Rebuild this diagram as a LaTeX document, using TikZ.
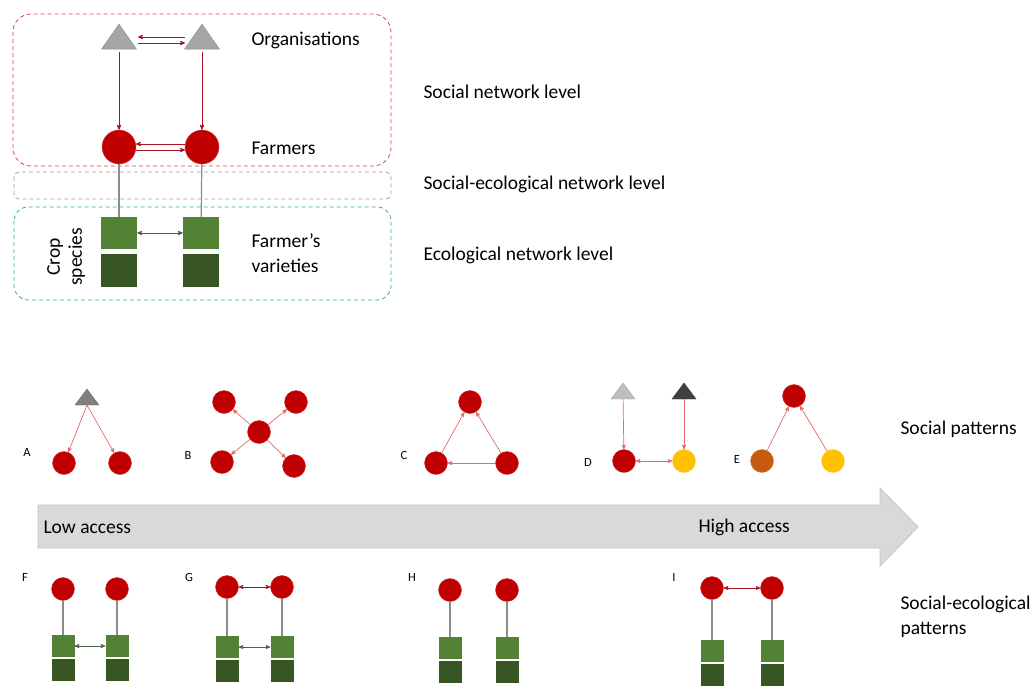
\documentclass[tikz,border=0pt]{standalone}
\usepackage{fontspec}
\setmainfont{Carlito}
\usetikzlibrary{positioning,shapes.geometric,arrows}
\definecolor{farmred}{RGB}{192,0,0}
\definecolor{linkred}{RGB}{165,20,35}
\definecolor{softred}{RGB}{228,105,105}
\definecolor{orggrey}{RGB}{166,166,166}
\definecolor{midgrey}{RGB}{128,128,128}
\definecolor{lightgrey}{RGB}{191,191,191}
\definecolor{darkgrey}{RGB}{64,64,64}
\definecolor{cropgreen}{RGB}{84,130,53}
\definecolor{vargreen}{RGB}{55,86,35}
\definecolor{linkgreen}{RGB}{75,100,70}
\definecolor{stemgrey}{RGB}{140,140,140}
\definecolor{boxred}{RGB}{210,70,80}
\definecolor{boxgrey}{RGB}{160,160,160}
\definecolor{boxgreen}{RGB}{60,175,135}
\definecolor{arrowfill}{RGB}{217,217,217}
\definecolor{arrowedge}{RGB}{195,195,195}
\definecolor{gold}{RGB}{255,192,0}
\definecolor{rust}{RGB}{197,90,17}

\begin{document}
\begin{tikzpicture}[%
    x=1pt, y=-1pt,
    >=stealth',
    font=\fontsize{19.5}{23}\selectfont,
    farmer/.style={circle, fill=farmred, draw=farmred!75!white, inner sep=0pt, minimum size=34pt},
    dot/.style={circle, fill=#1, draw=#1!80!white, inner sep=0pt, minimum size=23pt},
    dot/.default=farmred,
    org/.style={isosceles triangle, isosceles triangle stretches, shape border rotate=90,
      fill=#1, draw=#1!85!black, inner sep=0pt, minimum width=35pt, minimum height=25pt},
    smallorg/.style={org=#1, minimum width=24pt, minimum height=16pt},
    crop/.style={rectangle, fill=cropgreen, inner sep=0pt, minimum width=36pt, minimum height=32pt},
    variety/.style={crop, fill=vargreen, minimum height=33pt},
    smallcrop/.style={crop, minimum width=23pt, minimum height=22pt},
    smallvariety/.style={variety, minimum width=23pt, minimum height=22pt},
    toplink/.style={->, draw=linkred, line width=0.8pt},
    softlink/.style={->, draw=softred, line width=0.7pt},
    greenlink/.style={<->, draw=linkgreen, line width=0.8pt},
    stem/.style={draw=stemgrey, line width=1.2pt},
    level/.style={anchor=west},
    letter/.style={font=\fontsize{12.5}{14}\selectfont}
  ]
    \useasboundingbox (0,0) rectangle (1036,686);

    % levels
    \draw[boxred, dash pattern=on 4pt off 3pt, line width=0.8pt, rounded corners=18pt] (13,14) rectangle (391,166);
    \draw[boxgrey, dash pattern=on 4pt off 3pt, line width=0.8pt, rounded corners=5pt] (14,172) rectangle (391,199);
    \draw[boxgreen, dash pattern=on 4pt off 3pt, line width=0.8pt, rounded corners=14pt] (14,207) rectangle (391,300);

    \node[org=orggrey] (o1) at (119,40) {};
    \node[org=orggrey] (o2) at (202,40) {};
    \node[farmer] (f1) at (119,147) {};
    \node[farmer] (f2) at (202,147) {};
    \node[crop] (s1) at (119,233) {};
    \node[crop] (s2) at (201,233) {};
    \node[variety] (v1) at (119,270.5) {};
    \node[variety] (v2) at (201,270.5) {};

    \path (f1) edge[stem] (s1)
          (f2) edge[stem] (s2)
          ([xshift=-17pt,yshift=3pt]o2.center) edge[toplink] ([xshift=19pt,yshift=3pt]o1.center)
          ([xshift=19pt,yshift=-3pt]o1.center) edge[toplink] ([xshift=-17pt,yshift=-3pt]o2.center)
          (o1) edge[toplink, shorten <=3pt] (f1)
          (o2) edge[toplink, shorten <=3pt] (f2)
          (f2.170) edge[toplink] (f1.10)
          (f1.-10) edge[toplink] (f2.190)
          (s1) edge[greenlink] (s2);

    \node[rotate=90, align=center, font=\fontsize{19.5}{22}\selectfont] (crop) at (66,257) {Crop\\species};
    \node[level] (orgs) at (248,40) {Organisations};
    \node[level] (farm) at (248,148) {Farmers};
    \node[level, align=left, font=\fontsize{19.5}{25}\selectfont] (vars) at (248,253) {Farmer’s\\varieties};
    \node[level] (snl) at (420,92) {Social network level};
    \node[level] (senl) at (420,184) {Social-ecological network level};
    \node[level] (enl) at (420,255) {Ecological network level};

    % social patterns
    \node[letter] (la) at (27,452) {A};
    \node[smallorg=midgrey] (a0) at (87,399) {};
    \node[dot] (a1) at (64,463) {};
    \node[dot] (a2) at (120,463) {};

    \node[letter] (lb) at (188,455) {B};
    \node[dot] (b0) at (259,432) {};
    \node[dot] (b1) at (224,402) {};
    \node[dot] (b2) at (296,402) {};
    \node[dot] (b3) at (222,462) {};
    \node[dot] (b4) at (294,466) {};

    \node[letter] (lc) at (404,455) {C};
    \node[dot] (c1) at (470,402) {};
    \node[dot] (c2) at (436,463) {};
    \node[dot] (c3) at (507,463) {};

    \node[letter] (ld) at (588,462) {D};
    \node[smallorg=lightgrey] (d1) at (623,393) {};
    \node[smallorg=darkgrey] (d2) at (684,393) {};
    \node[dot] (d3) at (624,461) {};
    \node[dot=gold] (d4) at (684,461) {};

    \node[letter] (le) at (737,459) {E};
    \node[dot] (e1) at (794,396) {};
    \node[dot=rust] (e2) at (762,461) {};
    \node[dot=gold] (e3) at (833,461) {};

    \path (a0.south) edge[softlink] (a1)
          (a0.south) edge[softlink] (a2)
          (b0) edge[softlink] (b1)
          (b0) edge[softlink] (b2)
          (b0) edge[softlink] (b3)
          (b0) edge[softlink] (b4)
          (c2) edge[softlink] (c1)
          (c3) edge[softlink] (c1)
          (c3) edge[softlink] (c2)
          (d1) edge[softlink] (d3)
          (d2) edge[softlink] (d4)
          (d3) edge[softlink, <->] (d4)
          (e2) edge[softlink] (e1)
          (e3) edge[softlink] (e1);

    \node[level] (sp) at (897,429) {Social patterns};

    % access gradient
    \draw[fill=arrowfill, draw=arrowedge, line width=0.8pt]
      (38,505) -- (880,505) -- (880,488) -- (918,527) -- (880,566) -- (880,548) -- (38,548) -- cycle;
    \node[level] (low) at (40,527) {Low access};
    \node[level] (high) at (695,527) {High access};

    % social-ecological patterns
    \foreach \n/\l/\xa/\xb/\yc/\ys in {f/F/63/117/589/646, g/G/227/282/587/647, h/H/450/507/590/648, i/I/712/772/588/651} {
      \node[letter] (l\n) at (\xa-38,577) {\l};
      \node[dot] (\n1) at (\xa,\yc) {};
      \node[dot] (\n2) at (\xb,\yc) {};
      \node[smallcrop] (\n3) at (\xa,\ys) {};
      \node[smallcrop] (\n4) at (\xb,\ys) {};
      \node[smallvariety] (\n5) at (\xa,\ys+24) {};
      \node[smallvariety] (\n6) at (\xb,\ys+24) {};
      \path (\n1) edge[stem] (\n3)
            (\n2) edge[stem] (\n4);
    }
    \path (f3) edge[greenlink, line width=0.7pt] (f4)
          (g1) edge[softlink, <->, draw=linkred] (g2)
          (g3) edge[greenlink, line width=0.7pt] (g4)
          (i1) edge[softlink, <->, draw=linkred] (i2);

    \node[level, align=left, font=\fontsize{19.5}{25}\selectfont] (sep) at (897,617) {Social-ecological\\patterns};
  \end{tikzpicture}
\end{document}
